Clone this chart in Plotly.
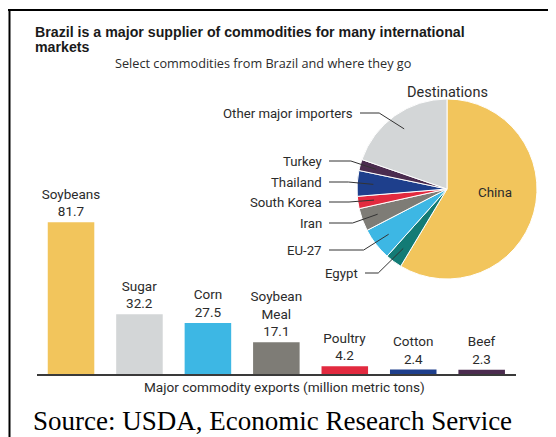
import math
import plotly.graph_objects as go

# The page body has an 8px default margin, so the figure is drawn 8px right/down
OFF = 8
W, H = 556 - OFF, 437 - OFF

# ---- data ----
commodities = ["Soybeans", "Sugar", "Corn", "Soybean Meal", "Poultry", "Cotton", "Beef"]
commodity_labels = ["Soybeans", "Sugar", "Corn", "Soybean<br>Meal", "Poultry", "Cotton", "Beef"]
exports = [81.7, 32.2, 27.5, 17.1, 4.2, 2.4, 2.3]
bar_colors = ["#F2C55C", "#D3D6D7", "#3DB7E4", "#7E7C76", "#E22A3F", "#1E3F8C", "#4B2C4F"]

destinations = ["China", "Egypt", "EU-27", "Iran", "South Korea", "Thailand", "Turkey",
                "Other major importers"]
dest_share = [58.6, 3.0, 5.8, 4.1, 2.2, 4.6, 2.0, 19.7]
dest_colors = ["#F2C55C", "#137B75", "#3DB7E4", "#7E7C76", "#E22A3F", "#1E3F8C", "#4B2C4F",
               "#D3D6D7"]

# ---- layout constants (viewport pixels) ----
TXT = "#2b2b2b"
FONT = "Roboto"
pie_cx, pie_cy, pie_r = 447, 189, 90
label_pos = {  # right end x, centre y of each pie label
    "Other major importers": (355, 113),
    "Turkey": (324, 161),
    "Thailand": (324, 182),
    "South Korea": (324, 202),
    "Iran": (324, 223),
    "EU-27": (324, 250),
    "Egypt": (360, 273),
}


def px(x):
    return (x - OFF) / W


def py(y):
    return 1 - (y - OFF) / H


fig = go.Figure()

fig.add_trace(go.Bar(
    x=commodities, y=exports,
    marker=dict(color=bar_colors, line=dict(width=0)),
    width=0.68,
    customdata=commodity_labels,
    texttemplate="%{customdata}<br>%{y:.1f}",
    textposition="outside",
    constraintext="none",
    textfont=dict(family=FONT, size=13.5, color=TXT),
    cliponaxis=False,
    hoverinfo="skip",
    showlegend=False,
))

fig.add_trace(go.Pie(
    labels=destinations, values=dest_share,
    marker=dict(colors=dest_colors, line=dict(color="white", width=1)),
    sort=False, direction="clockwise", rotation=0,
    textinfo="none", hoverinfo="skip", showlegend=False,
    domain=dict(x=[px(pie_cx - pie_r), px(pie_cx + pie_r)],
                y=[py(pie_cy + pie_r), py(pie_cy - pie_r)]),
))

shapes = []
annotations = []

# leader lines from data-derived slice angles
total = sum(dest_share)
cum = 0.0
for name, v in zip(destinations, dest_share):
    mid = (cum + v / 2) / total * 2 * math.pi
    cum += v
    if name not in label_pos:
        continue
    ex = pie_cx + 0.82 * pie_r * math.sin(mid)
    ey = pie_cy - 0.82 * pie_r * math.cos(mid)
    lx, ly = label_pos[name]
    sx = lx + 5
    kx = max(sx + 8, ex - 25)
    shapes.append(dict(
        type="path", xref="paper", yref="paper",
        path=f"M {px(sx)},{py(ly)} L {px(kx)},{py(ly)} L {px(ex)},{py(ey)}",
        line=dict(color="#333333", width=1), layer="above"))
    annotations.append(dict(
        x=px(lx), y=py(ly), xref="paper", yref="paper", text=name,
        showarrow=False, xanchor="right", yanchor="middle",
        font=dict(family=FONT, size=13.2, color=TXT)))

annotations += [
    dict(x=px(495), y=py(192), text="China", font=dict(family=FONT, size=13.4, color=TXT)),
    dict(x=px(447), y=py(92), text="Destinations", font=dict(family=FONT, size=14.5, color=TXT)),
    dict(x=px(284), y=py(387), text="Major commodity exports (million metric tons)",
         font=dict(family=FONT, size=13.6, color=TXT)),
]
for a in annotations[-3:]:
    a.update(xref="paper", yref="paper", showarrow=False, xanchor="center", yanchor="middle")

annotations += [
    dict(x=px(33), y=py(32), text="<b>Brazil is a major supplier of commodities for many international</b>",
         xanchor="left", yanchor="middle",
         font=dict(family="Liberation Sans", size=14.2, color="#1a1a1a")),
    dict(x=px(33), y=py(47), text="<b>markets</b>",
         xanchor="left", yanchor="middle",
         font=dict(family="Liberation Sans", size=14.2, color="#1a1a1a")),
    dict(x=px(263), y=py(63), text="Select commodities from Brazil and where they go",
         xanchor="center", yanchor="middle",
         font=dict(family="Open Sans", size=12.7, color=TXT)),
    dict(x=px(31), y=py(421), text="Source: USDA, Economic Research Service",
         xanchor="left", yanchor="middle",
         font=dict(family="Liberation Serif", size=27, color="#000000")),
]
for a in annotations[-4:]:
    a.update(xref="paper", yref="paper", showarrow=False)

# frame lines
shapes += [
    dict(type="line", xref="paper", yref="paper", x0=px(8), x1=px(556), y0=py(10), y1=py(10),
         line=dict(color="black", width=2)),
    dict(type="line", xref="paper", yref="paper", x0=px(9.5), x1=px(9.5), y0=py(10), y1=py(437),
         line=dict(color="black", width=2)),
]

fig.update_layout(
    width=W, height=H,
    margin=dict(l=0, r=0, t=0, b=0),
    paper_bgcolor="white", plot_bgcolor="white",
    xaxis=dict(domain=[px(36.8), px(515.9)], range=[-0.5, 6.5], showticklabels=False,
               ticks="", showgrid=False, zeroline=False, showline=True,
               linecolor="#3a3a3a", linewidth=1.5, fixedrange=True),
    yaxis=dict(domain=[py(374), py(188.3)], range=[0, 100], visible=False,
               showgrid=False, zeroline=False, fixedrange=True),
    shapes=shapes,
    annotations=annotations,
)

fig.write_html("out.html")
